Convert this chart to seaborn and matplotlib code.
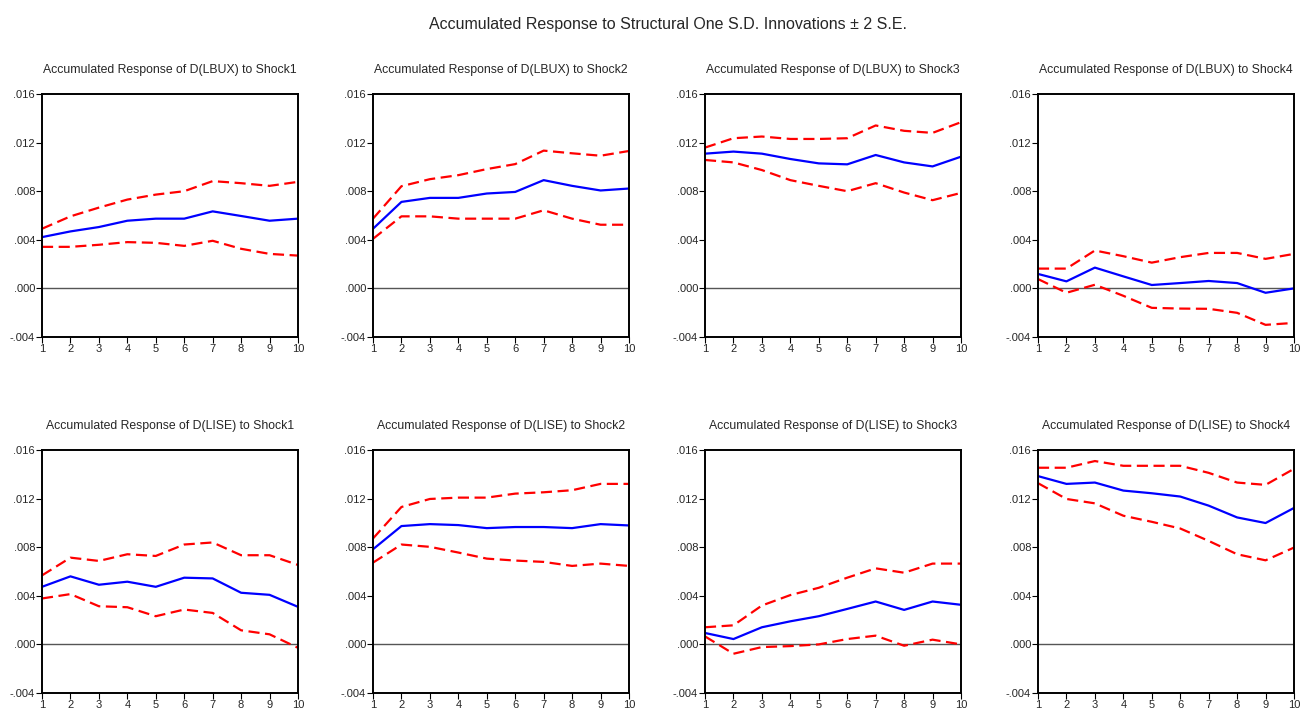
import matplotlib
matplotlib.use('Agg')
import matplotlib.pyplot as plt
import pandas as pd
import seaborn as sns

periods = list(range(1, 11))
variables = ['D(LBUX)', 'D(LISE)']
shocks = ['Shock1', 'Shock2', 'Shock3', 'Shock4']

# accumulated responses (row: variable, col: shock)
lbux_resp = [
    [0.00422, 0.00469, 0.00505, 0.00557, 0.00574, 0.00574, 0.00634, 0.00596, 0.00557, 0.00574],
    [0.00491, 0.00712, 0.00745, 0.00745, 0.00781, 0.00794, 0.00891, 0.00844, 0.00806, 0.00822],
    [0.01109, 0.01126, 0.01109, 0.01065, 0.01029, 0.01021, 0.01098, 0.01037, 0.01004, 0.01084],
    [0.00119, 0.00058, 0.00171, 0.00099, 0.00028, 0.00044, 0.00061, 0.00044, -0.00036, 0.00000],
]
lbux_upper = [
    [0.00491, 0.00593, 0.00665, 0.00731, 0.00772, 0.00800, 0.00883, 0.00866, 0.00844, 0.00877],
    [0.00574, 0.00841, 0.00899, 0.00932, 0.00982, 0.01023, 0.01134, 0.01112, 0.01092, 0.01131],
    [0.01159, 0.01236, 0.01250, 0.01230, 0.01230, 0.01236, 0.01341, 0.01297, 0.01280, 0.01368],
    [0.00163, 0.00163, 0.00312, 0.00265, 0.00212, 0.00257, 0.00292, 0.00292, 0.00243, 0.00284],
]
lbux_lower = [
    [0.00342, 0.00342, 0.00359, 0.00381, 0.00375, 0.00350, 0.00392, 0.00326, 0.00284, 0.00270],
    [0.00408, 0.00593, 0.00593, 0.00574, 0.00574, 0.00574, 0.00643, 0.00574, 0.00524, 0.00524],
    [0.01057, 0.01037, 0.00974, 0.00891, 0.00844, 0.00800, 0.00866, 0.00789, 0.00726, 0.00786],
    [0.00077, -0.00036, 0.00030, -0.00061, -0.00160, -0.00166, -0.00168, -0.00201, -0.00300, -0.00284],
]
lise_resp = [
    [0.00474, 0.00560, 0.00491, 0.00516, 0.00474, 0.00549, 0.00543, 0.00425, 0.00408, 0.00309],
    [0.00783, 0.00974, 0.00990, 0.00982, 0.00957, 0.00966, 0.00966, 0.00957, 0.00990, 0.00979],
    [0.00094, 0.00044, 0.00141, 0.00190, 0.00232, 0.00292, 0.00353, 0.00284, 0.00353, 0.00326],
    [0.01385, 0.01321, 0.01332, 0.01266, 0.01244, 0.01217, 0.01142, 0.01045, 0.00999, 0.01123],
]
lise_upper = [
    [0.00568, 0.00714, 0.00687, 0.00742, 0.00728, 0.00822, 0.00839, 0.00734, 0.00734, 0.00654],
    [0.00872, 0.01131, 0.01197, 0.01208, 0.01208, 0.01241, 0.01252, 0.01269, 0.01321, 0.01321],
    [0.00141, 0.00157, 0.00320, 0.00406, 0.00466, 0.00549, 0.00626, 0.00590, 0.00665, 0.00665],
    [0.01454, 0.01454, 0.01509, 0.01470, 0.01470, 0.01470, 0.01412, 0.01332, 0.01313, 0.01445],
]
lise_lower = [
    [0.00378, 0.00414, 0.00314, 0.00306, 0.00232, 0.00287, 0.00259, 0.00116, 0.00083, -0.00028],
    [0.00673, 0.00822, 0.00803, 0.00756, 0.00706, 0.00690, 0.00679, 0.00646, 0.00665, 0.00646],
    [0.00066, -0.00077, -0.00022, -0.00014, 0.00000, 0.00044, 0.00072, -0.00011, 0.00039, 0.00000],
    [0.01327, 0.01197, 0.01161, 0.01059, 0.01009, 0.00954, 0.00852, 0.00742, 0.00692, 0.00797],
]

y_ticks = [-0.004, 0.000, 0.004, 0.008, 0.012, 0.016]
y_labels = ['-.004', '.000', '.004', '.008', '.012', '.016']

sns.set_style('white')
plt.rcParams['font.family'] = ['Liberation Sans', 'DejaVu Sans']

fig = plt.figure(figsize=(13, 7.11), dpi=100)
W, H = 1300, 711
lefts = [42, 373, 705, 1038]
width = 256
tops = [94, 450]
height = 243

data = [(lbux_resp, lbux_upper, lbux_lower), (lise_resp, lise_upper, lise_lower)]

for r, var in enumerate(variables):
    resp, upper, lower = data[r]
    for c, shock in enumerate(shocks):
        ax = fig.add_axes([lefts[c] / W, 1 - (tops[r] + height) / H, width / W, height / H])
        df = pd.DataFrame({'period': periods, 'resp': resp[c],
                           'upper': upper[c], 'lower': lower[c]})
        ax.axhline(0, color='#555555', lw=1.0, zorder=1)
        sns.lineplot(data=df, x='period', y='resp', ax=ax, color='#0000ff', lw=1.6)
        sns.lineplot(data=df, x='period', y='upper', ax=ax, color='#ff0000', lw=1.6,
                     linestyle=(0, (5, 2.5)))
        sns.lineplot(data=df, x='period', y='lower', ax=ax, color='#ff0000', lw=1.6,
                     linestyle=(0, (5, 2.5)))
        ax.set_xlim(1, 10)
        ax.set_ylim(-0.004, 0.016)
        ax.set_xticks(periods)
        ax.set_yticks(y_ticks)
        ax.set_yticklabels(y_labels)
        ax.set_xlabel('')
        ax.set_ylabel('')
        ax.tick_params(axis='both', direction='out', length=4, width=0.8,
                       labelsize=8, pad=1, color='black', left=True, bottom=True)
        for s in ax.spines.values():
            s.set_color('black')
            s.set_linewidth(1.4)
            s.set_visible(True)
        ax.set_title(f'Accumulated Response of {var} to {shock}', fontsize=8.8, pad=15)

fig.text(0.514, 1 - 25 / H, 'Accumulated Response to Structural One S.D. Innovations \u00b1 2 S.E.',
         ha='center', va='center', fontsize=11.5)

fig.savefig('out.png', dpi=100)
